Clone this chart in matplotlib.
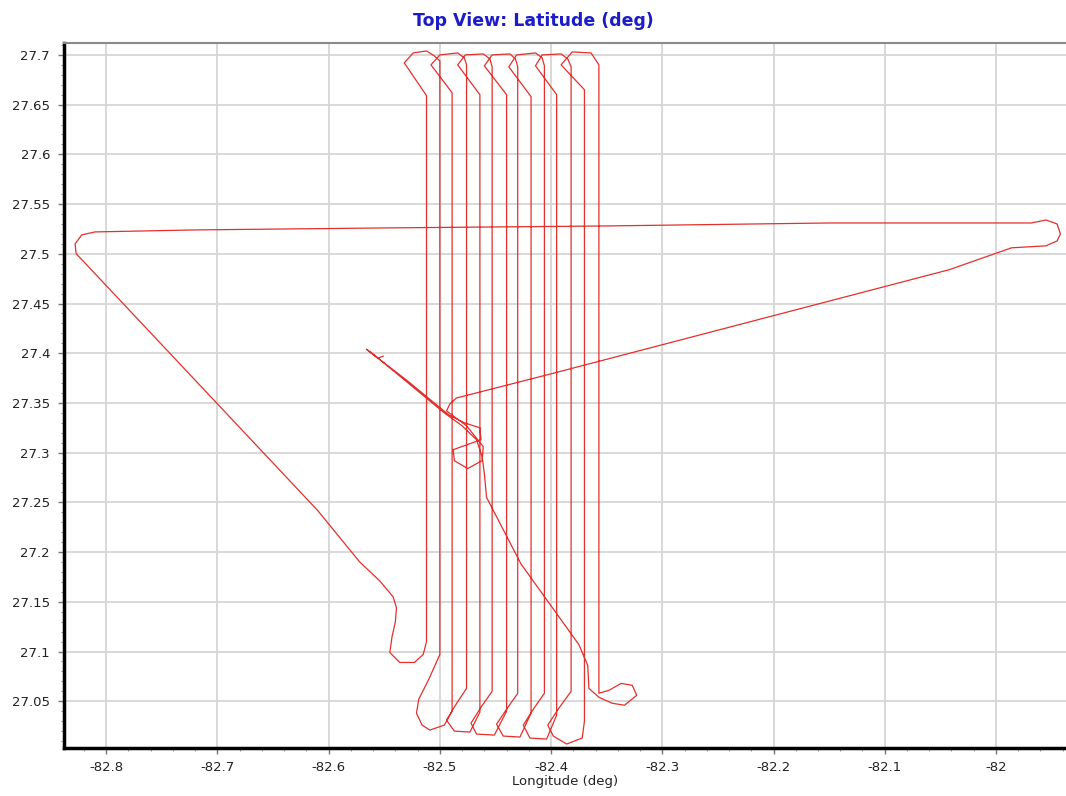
import matplotlib
matplotlib.use("Agg")
import matplotlib.pyplot as plt
from matplotlib.ticker import MultipleLocator, FuncFormatter

# track (lon, lat in deg)
depart_lon = [-82.551, -82.556, -82.566, -82.530, -82.492, -82.478, -82.464, -82.463, -82.488,
              -82.487, -82.475, -82.462, -82.461, -82.476, -82.494, -82.491, -82.485]
depart_lat = [27.397, 27.395, 27.404, 27.373, 27.338, 27.330, 27.325, 27.313, 27.303,
              27.292, 27.284, 27.292, 27.306, 27.327, 27.342, 27.349, 27.355]

transit_lon = [-82.401, -82.042, -81.986, -81.955, -81.945, -81.942, -81.945, -81.955, -81.968,
               -82.150, -82.350, -82.550, -82.720, -82.810, -82.822, -82.828, -82.827, -82.821,
               -82.700, -82.610, -82.572, -82.554, -82.542, -82.539, -82.540, -82.543, -82.545,
               -82.536, -82.523, -82.515]
transit_lat = [27.379, 27.484, 27.506, 27.508, 27.513, 27.520, 27.530, 27.534, 27.531,
               27.531, 27.528, 27.526, 27.524, 27.522, 27.519, 27.510, 27.500, 27.493,
               27.349, 27.242, 27.190, 27.171, 27.155, 27.144, 27.130, 27.115, 27.099,
               27.089, 27.089, 27.097]

survey_lon = [-82.512, -82.512, -82.532, -82.524, -82.512, -82.505, -82.500,
              -82.500, -82.510, -82.519, -82.521, -82.516, -82.509, -82.496, -82.489,
              -82.489, -82.508, -82.500, -82.484, -82.478, -82.476,
              -82.476, -82.486, -82.494, -82.487, -82.473, -82.464,
              -82.464, -82.484, -82.477, -82.461, -82.455, -82.453,
              -82.453, -82.463, -82.472, -82.467, -82.451, -82.440,
              -82.440, -82.460, -82.453, -82.437, -82.432, -82.430,
              -82.430, -82.440, -82.449, -82.443, -82.428, -82.418,
              -82.418, -82.438, -82.431, -82.414, -82.408, -82.406,
              -82.406, -82.416, -82.425, -82.419, -82.404, -82.395,
              -82.395, -82.414, -82.408, -82.391, -82.385, -82.382,
              -82.382, -82.393, -82.403, -82.398, -82.386, -82.372, -82.370,
              -82.370, -82.391, -82.381, -82.364, -82.357,
              -82.357]
survey_lat = [27.110, 27.659, 27.692, 27.702, 27.704, 27.699, 27.694,
              27.097, 27.072, 27.052, 27.038, 27.026, 27.021, 27.026, 27.040,
              27.662, 27.690, 27.700, 27.702, 27.697, 27.690,
              27.063, 27.046, 27.031, 27.020, 27.019, 27.039,
              27.660, 27.690, 27.700, 27.701, 27.696, 27.688,
              27.060, 27.044, 27.028, 27.017, 27.016, 27.040,
              27.660, 27.689, 27.700, 27.701, 27.696, 27.688,
              27.058, 27.042, 27.027, 27.015, 27.014, 27.038,
              27.658, 27.688, 27.700, 27.702, 27.697, 27.689,
              27.058, 27.042, 27.026, 27.013, 27.012, 27.036,
              27.660, 27.689, 27.700, 27.701, 27.696, 27.688,
              27.060, 27.043, 27.026, 27.015, 27.007, 27.013, 27.030,
              27.665, 27.690, 27.703, 27.702, 27.690,
              27.058]

return_lon = [-82.348, -82.337, -82.327, -82.323, -82.334, -82.345, -82.357, -82.366, -82.367,
              -82.375, -82.427, -82.458, -82.460, -82.462, -82.467, -82.480, -82.496, -82.562]
return_lat = [27.061, 27.068, 27.066, 27.056, 27.046, 27.048, 27.054, 27.063, 27.086,
              27.107, 27.188, 27.255, 27.279, 27.296, 27.313, 27.327, 27.340, 27.401]


def fmt(v, pos):
	return "%g" % round(v, 3)


def main():
	lon = depart_lon + transit_lon + survey_lon + return_lon
	lat = depart_lat + transit_lat + survey_lat + return_lat

	fig = plt.figure(figsize=(10.66, 7.96), dpi=100)
	ax = fig.add_axes([0.060, 0.0603, 0.94, 0.8857])

	ax.plot(lon, lat, color="#e2302c", lw=0.9, zorder=3)

	ax.set_xlim(-82.838, -81.937)
	ax.set_ylim(27.003, 27.712)

	ax.xaxis.set_major_locator(MultipleLocator(0.1))
	ax.xaxis.set_minor_locator(MultipleLocator(0.02))
	ax.yaxis.set_major_locator(MultipleLocator(0.05))
	ax.yaxis.set_minor_locator(MultipleLocator(0.01))
	ax.xaxis.set_major_formatter(FuncFormatter(fmt))
	ax.yaxis.set_major_formatter(FuncFormatter(fmt))

	ax.grid(True, which="major", color="#d6d6d6", lw=1.3, zorder=0)
	ax.set_axisbelow(True)

	ax.spines["left"].set_linewidth(2.5)
	ax.spines["bottom"].set_linewidth(2.5)
	ax.spines["top"].set_color("#8a8a8a")
	ax.spines["top"].set_linewidth(1.5)
	ax.spines["right"].set_visible(False)

	ax.tick_params(which="major", direction="out", length=4, width=1, color="#777777",
				   labelsize=9.5, labelcolor="#222222", pad=5)
	ax.tick_params(which="minor", direction="out", length=2.5, width=0.8, color="#999999")
	ax.tick_params(axis="y", pad=6)

	ax.set_xlabel("Longitude (deg)", fontsize=9.5, color="#222222", labelpad=1)
	fig.text(0.5, 0.974, "Top View: Latitude (deg)", ha="center", va="center",
			 fontsize=12.5, fontweight="bold", color="#1c1cc8")

	fig.savefig("out.png", dpi=100)


if __name__ == "__main__":
	main()
